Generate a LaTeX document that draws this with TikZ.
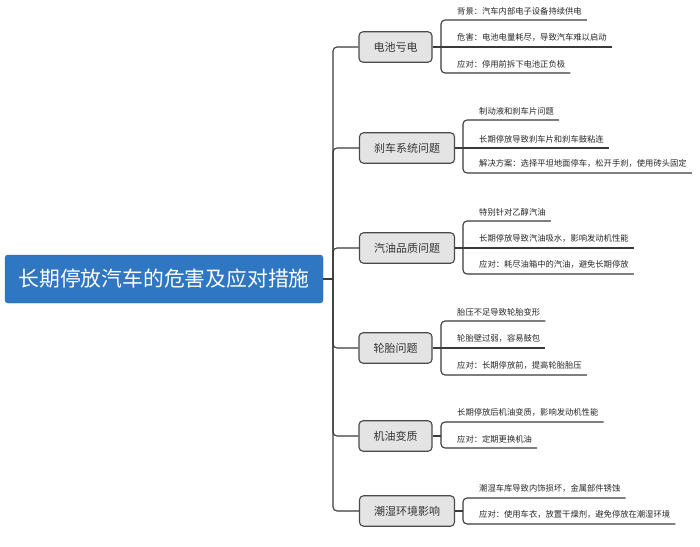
\documentclass[tikz,border=0pt]{standalone}
\usepackage{fontspec}
\setmainfont{Noto Sans CJK SC}
\definecolor{rootblue}{HTML}{2F76C3}
\definecolor{boxfill}{HTML}{E4E4E4}
\definecolor{boxline}{HTML}{4A4A4A}
\definecolor{conncol}{HTML}{3A3A3A}
\tikzset{
  rootbox/.style={draw=rootblue!90!black, fill=rootblue, rounded corners=3pt, text=white,
    font=\fontsize{20.8}{24}\selectfont, minimum width=318pt, minimum height=48pt, inner sep=0pt},
  branchbox/.style={draw=boxline, fill=boxfill, rounded corners=4pt, line width=1.1pt, text=black!80,
    font=\fontsize{11}{13}\selectfont, inner xsep=14.5pt, minimum height=30.5pt, inner ysep=0pt},
  leaf/.style={anchor=south west, inner xsep=5pt, inner ysep=5pt, font=\fontsize{8.3}{10}\selectfont, text=black!85},
  conn/.style={draw=conncol, line width=1.1pt},
  elbow/.style={conn, rounded corners=4pt}
}
\begin{document}
\begin{tikzpicture}[x=1pt,y=-1pt]
\useasboundingbox (0,0) rectangle (700,546);
% root
\node[rootbox] (root) at (164,279) {长期停放汽车的危害及应对措施};
\coordinate (t) at (333,279);
% branches
\node[branchbox] (b1) at (395.5,47) {电池亏电};
\node[branchbox] (b2) at (407,148) {刹车系统问题};
\node[branchbox] (b3) at (407,248) {汽油品质问题};
\node[branchbox] (b4) at (395.5,348) {轮胎问题};
\node[branchbox] (b5) at (395.5,436) {机油变质};
\node[branchbox] (b6) at (407,511) {潮湿环境影响};
\draw[conn] (root.east) -- (t);
\foreach \br in {b1,b2,b3,b4,b5,b6} { \draw[elbow] (t) |- (\br.west); }
% branch 1
\coordinate (k1) at (441,47);
\node[leaf] (l11) at (452,20) {背景：汽车内部电子设备持续供电};
\node[leaf] (l12) at (452,47) {危害：电池电量耗尽，导致汽车难以启动};
\node[leaf] (l13) at (452,73) {应对：停用前拆下电池正负极};
\draw[conn] (b1.east) -- (k1) -- (l12.south east);
\draw[elbow] (k1) |- (l11.south east);
\draw[elbow] (k1) |- (l13.south east);
% branch 2
\coordinate (k2) at (463,148);
\node[leaf] (l21) at (474,120) {制动液和刹车片问题};
\node[leaf] (l22) at (474,148) {长期停放导致刹车片和刹车鼓粘连};
\node[leaf] (l23) at (474,173) {解决方案：选择平坦地面停车，松开手刹，使用砖头固定};
\draw[conn] (b2.east) -- (k2) -- (l22.south east);
\draw[elbow] (k2) |- (l21.south east);
\draw[elbow] (k2) |- (l23.south east);
% branch 3
\coordinate (k3) at (463,248);
\node[leaf] (l31) at (474,221) {特别针对乙醇汽油};
\node[leaf] (l32) at (474,248) {长期停放导致汽油吸水，影响发动机性能};
\node[leaf] (l33) at (474,274) {应对：耗尽油箱中的汽油，避免长期停放};
\draw[conn] (b3.east) -- (k3) -- (l32.south east);
\draw[elbow] (k3) |- (l31.south east);
\draw[elbow] (k3) |- (l33.south east);
% branch 4
\coordinate (k4) at (441,348);
\node[leaf] (l41) at (452,321) {胎压不足导致轮胎变形};
\node[leaf] (l42) at (452,348) {轮胎壁过弱，容易鼓包};
\node[leaf] (l43) at (452,375) {应对：长期停放前，提高轮胎胎压};
\draw[conn] (b4.east) -- (k4) -- (l42.south east);
\draw[elbow] (k4) |- (l41.south east);
\draw[elbow] (k4) |- (l43.south east);
% branch 5
\coordinate (k5) at (441,436);
\node[leaf] (l51) at (452,422) {长期停放后机油变质，影响发动机性能};
\node[leaf] (l52) at (452,448) {应对：定期更换机油};
\draw[conn] (b5.east) -- (k5);
\draw[elbow] (k5) |- (l51.south east);
\draw[elbow] (k5) |- (l52.south east);
% branch 6
\coordinate (k6) at (463,511);
\node[leaf] (l61) at (474,498) {潮湿车库导致内饰损坏，金属部件锈蚀};
\node[leaf] (l62) at (474,524) {应对：使用车衣，放置干燥剂，避免停放在潮湿环境};
\draw[conn] (b6.east) -- (k6);
\draw[elbow] (k6) |- (l61.south east);
\draw[elbow] (k6) |- (l62.south east);
\end{tikzpicture}
\end{document}
